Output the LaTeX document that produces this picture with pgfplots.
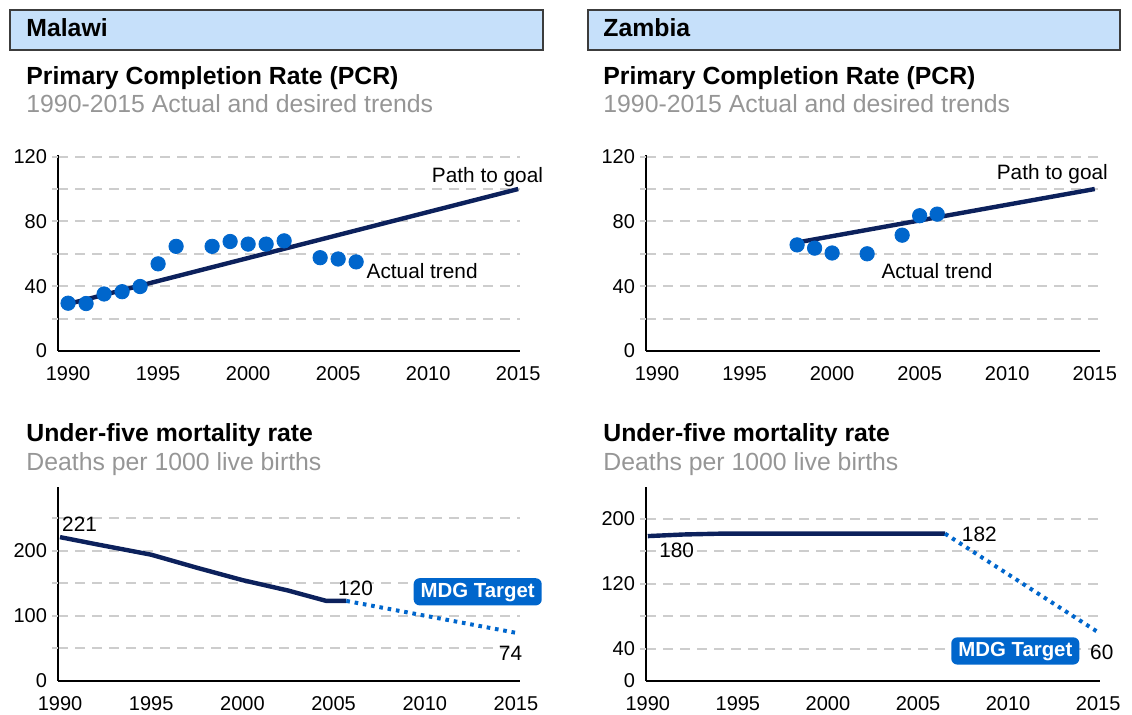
\documentclass[border=0pt]{standalone}
\usepackage{pgfplots}
\pgfplotsset{compat=1.18}
\usepackage{fontspec}
\setmainfont{Liberation Sans}
\definecolor{navy}{RGB}{12,33,92}
\definecolor{dotblue}{RGB}{0,102,204}
\definecolor{hdrfill}{RGB}{198,224,250}
\definecolor{hdrline}{RGB}{60,60,60}
\definecolor{subgray}{RGB}{150,150,150}
\definecolor{gridgray}{RGB}{205,205,205}
\tikzset{
  gridl/.style={dash pattern=on 5pt off 3.5pt, line width=1pt, gridgray},
  goal/.style={navy, line width=2.2pt},
  pts/.style={only marks, mark=*, mark size=3.6pt, mark options={fill=dotblue, draw=dotblue}},
  sol/.style={navy, line width=2.2pt, line join=round},
  dots/.style={dotblue, line width=2pt, dash pattern=on 1.8pt off 2.4pt},
  ann/.style={font=\fontsize{10.4}{12}\selectfont, inner sep=0pt},
  mdg/.style={fill=dotblue, text=white, font=\bfseries\fontsize{10.2}{12}\selectfont, rounded corners=3pt, inner xsep=3.5pt, inner ysep=2pt, text height=7.6pt, text depth=2pt},
}
\pgfplotsset{
  panel/.style={
    scale only axis, width=231pt,
    axis x line=bottom, axis y line=left,
    axis line style={line width=1.1pt, -, black},
    major tick length=0pt,
    ymajorgrids,
    grid style={gridl},
    xtick={1990,1995,...,2015},
    xticklabel style={/pgf/number format/1000 sep={}},
    tick label style={font=\fontsize{10}{12}\selectfont},
    /pgf/number format/assume math mode=true,
    xticklabel shift=4pt, yticklabel shift=2pt,
    clip=false, anchor=south west,
  },
  pcr/.style={panel, height=98pt, ymin=0, ymax=121, ytick={0,20,...,120}, yticklabels={0,,40,,80,,120}},
}
\newcommand{\ttl}{\fontsize{12.4}{15}\selectfont}
\begin{document}
\begin{tikzpicture}
\useasboundingbox (0,0) rectangle (566pt,-357.5pt);
% headers
\draw[hdrline, line width=0.8pt, fill=hdrfill] (5pt,-5pt) rectangle (271.5pt,-25pt);
\draw[hdrline, line width=0.8pt, fill=hdrfill] (294pt,-5pt) rectangle (560pt,-25pt);
\node[anchor=base west, inner sep=0pt, font=\ttl\bfseries] at (13pt,-18.5pt) {Malawi};
\node[anchor=base west, inner sep=0pt, font=\ttl\bfseries] at (301.5pt,-18.5pt) {Zambia};
% titles
\foreach \xx in {13pt,301.5pt}{
  \node[anchor=base west, inner sep=0pt, font=\ttl\bfseries] at (\xx,-42.5pt) {Primary Completion Rate (PCR)};
  \node[anchor=base west, inner sep=0pt, font=\ttl, text=subgray] at (\xx,-56.5pt) {1990-2015 Actual and desired trends};
  \node[anchor=base west, inner sep=0pt, font=\ttl\bfseries] at (\xx,-221pt) {Under-five mortality rate};
  \node[anchor=base west, inner sep=0pt, font=\ttl, text=subgray] at (\xx,-235.5pt) {Deaths per 1000 live births};
}
% Malawi PCR
\begin{axis}[pcr, at={(29pt,-175.5pt)}, xmin=1989.44, xmax=2015.1]
\pgfplotsinvokeforeach{20,40,...,120}{\draw[gridl] ([xshift=-3pt]axis cs:1989.44,#1) -- (axis cs:1989.44,#1);}
\addplot[goal] coordinates {(1990,29) (2015,100)};
\addplot[pts] coordinates {(1990,29.5) (1991,29.3) (1992,35.2) (1993,36.6) (1994,39.8) (1995,53.8) (1996,64.6) (1998,64.6) (1999,67.6) (2000,66) (2001,66) (2002,68) (2004,57.6) (2005,56.8) (2006,55)};
\node[ann, anchor=base east] at (axis cs:2016.4,104) {Path to goal};
\node[ann, anchor=base west] at (axis cs:2006.56,44.5) {Actual trend};
\end{axis}
% Zambia PCR
\begin{axis}[pcr, at={(323pt,-175.5pt)}, width=227pt, xmin=1989.37, xmax=2015.3]
\pgfplotsinvokeforeach{20,40,...,120}{\draw[gridl] ([xshift=-3pt]axis cs:1989.37,#1) -- (axis cs:1989.37,#1);}
\addplot[goal] coordinates {(1998,67) (2015,100)};
\addplot[pts] coordinates {(1998,65.5) (1999,63.5) (2000,60.5) (2002,60) (2004,71.5) (2005,83.5) (2006,84.5)};
\node[ann, anchor=base east] at (axis cs:2015.77,105.7) {Path to goal};
\node[ann, anchor=base west] at (axis cs:2002.8,44.5) {Actual trend};
\end{axis}
% Malawi mortality
\begin{axis}[panel, at={(29pt,-340.5pt)}, height=97pt, xmin=1989.89, xmax=2015.22, ymin=0, ymax=298,
  ytick={0,50,...,250}, yticklabels={0,,100,,200,}]
\pgfplotsinvokeforeach{50,100,...,250}{\draw[gridl] ([xshift=-3pt]axis cs:1989.89,#1) -- (axis cs:1989.89,#1);}
\addplot[sol] coordinates {(1990,221) (1992,210) (1995,194) (1997.5,174) (2000,155) (2002.5,139) (2004.6,123) (2005.7,123)};
\addplot[dots] coordinates {(2005.7,123) (2015,74)};
\node[ann, anchor=base west] at (axis cs:1990.1,229) {221};
\node[ann, anchor=base] at (axis cs:2006.2,132) {120};
\node[ann, anchor=base] at (axis cs:2014.7,31) {74};
\node[mdg] at (axis cs:2012.9,137) {MDG Target};
\end{axis}
% Zambia mortality
\begin{axis}[panel, at={(323pt,-340.5pt)}, width=227pt, height=97pt, xmin=1989.9, xmax=2015.1, ymin=0, ymax=239,
  ytick={0,40,...,200}, yticklabels={0,40,,120,,200}]
\pgfplotsinvokeforeach{40,80,...,200}{\draw[gridl] ([xshift=-3pt]axis cs:1989.9,#1) -- (axis cs:1989.9,#1);}
\addplot[sol] coordinates {(1990,178.5) (1992,180.5) (1994,181.5) (2000,181.5) (2006.5,181.5)};
\addplot[dots] coordinates {(2006.5,181.5) (2015,60)};
\node[ann, anchor=base] at (axis cs:1991.6,152.6) {180};
\node[ann, anchor=base] at (axis cs:2008.4,172) {182};
\node[ann, anchor=base] at (axis cs:2015.2,27) {60};
\node[mdg] at (axis cs:2010.4,37) {MDG Target};
\end{axis}
\end{tikzpicture}
\end{document}
